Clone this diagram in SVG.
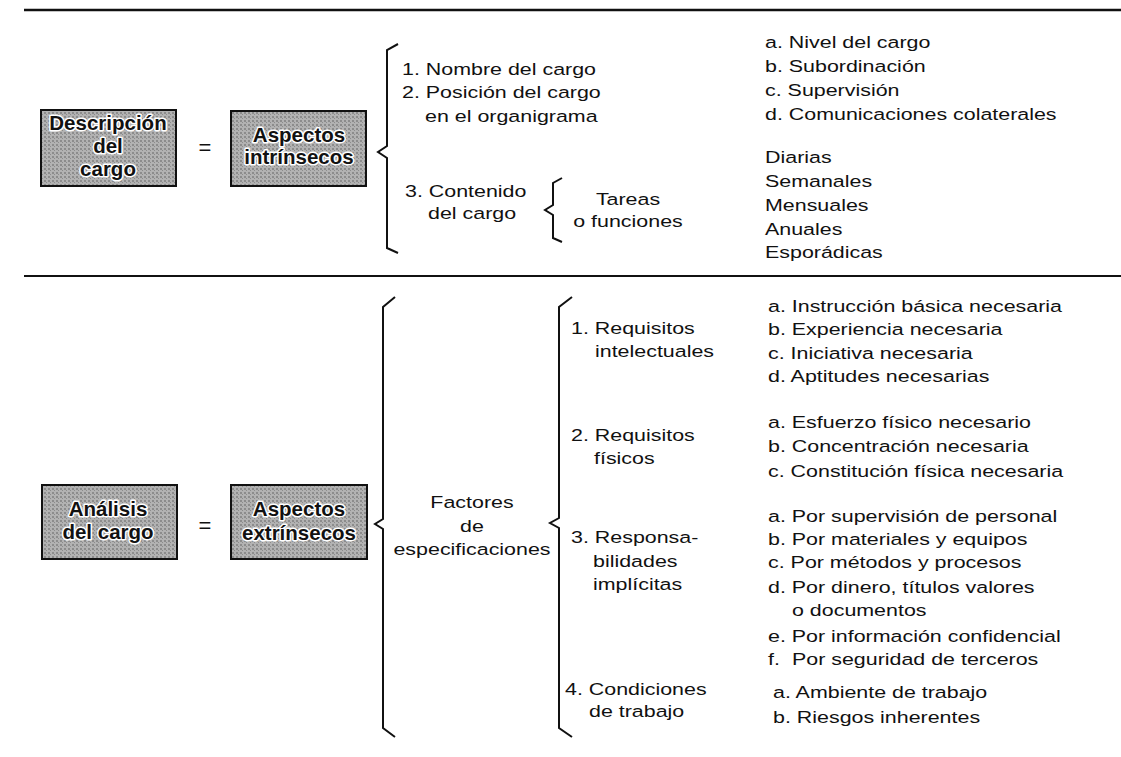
<svg xmlns="http://www.w3.org/2000/svg" width="1121" height="757" viewBox="0 0 1121 757">
<style>
  .t { font-family: "Liberation Sans", Arial, Helvetica, sans-serif; font-size: 17px; fill: #111; }
  .c { text-anchor: middle; }
  .b { font-family: "Liberation Sans", Arial, Helvetica, sans-serif; font-size: 20.5px; font-weight: bold; fill: #111; stroke: #fff; stroke-width: 3px; paint-order: stroke; stroke-linejoin: round; text-anchor: middle; }
  .box { fill: url(#halftone); stroke: #111; stroke-width: 2; }
  .eq { font-family: "Liberation Sans", Arial, sans-serif; font-size: 22px; fill: #111; text-anchor: middle; }
  .br { fill: none; stroke: #111; stroke-width: 2; stroke-linejoin: miter; }
  .rule { stroke: #111; }
</style>
<defs>
  <pattern id="halftone" width="4" height="4" patternUnits="userSpaceOnUse">
    <rect width="4" height="4" fill="#b2b2b2"/>
    <rect x="0" y="0" width="2" height="2" fill="#8c8c8c"/>
    <rect x="2" y="2" width="1" height="1" fill="#8c8c8c"/>
  </pattern>
</defs>
<rect width="1121" height="757" fill="#fff"/>
<line class="rule" x1="24" y1="10" x2="1121" y2="10" stroke-width="2.5"/>
<line class="rule" x1="24" y1="276" x2="1121" y2="276" stroke-width="2"/>

<g id="connectors">
  <path class="br" d="M398,44 L387,50 L387,146 L378,152 L387,158 L387,248 L398,253"/>
  <path class="br" d="M562,178 L553,183 L553,205 L545,210 L553,215 L553,238 L562,242"/>
  <path class="br" d="M395,297 L383,307 L383,519 L375,524 L383,529 L383,728 L395,737"/>
  <path class="br" d="M572,297 L559,307 L559,518 L550,523 L559,528 L559,728 L572,737"/>
</g>

<g id="descripcion">
  <rect class="box" x="41" y="110" width="135" height="76"/>
  <text class="b" x="108" y="130">Descripción</text>
  <text class="b" x="108" y="153">del</text>
  <text class="b" x="108" y="176">cargo</text>
</g>
<text id="eq1" class="eq" x="205" y="155">=</text>
<g id="intrinsecos">
  <rect class="box" x="231" y="111" width="135" height="75"/>
  <text class="b" x="299" y="142">Aspectos</text>
  <text class="b" x="299" y="164">intrínsecos</text>
</g>

<g id="top-items">
  <text class="t" transform="matrix(1.26 0 0 1 402 75)">1. Nombre del cargo</text>
  <text class="t" transform="matrix(1.26 0 0 1 402 98)">2. Posición del cargo</text>
  <text class="t" transform="matrix(1.26 0 0 1 425 122)">en el organigrama</text>
  <text class="t" transform="matrix(1.26 0 0 1 405 197)">3. Contenido</text>
  <text class="t" transform="matrix(1.26 0 0 1 428 219)">del cargo</text>
</g>
<g id="tareas">
  <text class="t c" transform="matrix(1.26 0 0 1 628 205)">Tareas</text>
  <text class="t c" transform="matrix(1.26 0 0 1 628 227)">o funciones</text>
</g>
<g id="top-right">
  <text class="t" transform="matrix(1.26 0 0 1 765 48)">a. Nivel del cargo</text>
  <text class="t" transform="matrix(1.26 0 0 1 765 72)">b. Subordinación</text>
  <text class="t" transform="matrix(1.26 0 0 1 765 96)">c. Supervisión</text>
  <text class="t" transform="matrix(1.26 0 0 1 765 120)">d. Comunicaciones colaterales</text>
  <text class="t" transform="matrix(1.26 0 0 1 765 163)">Diarias</text>
  <text class="t" transform="matrix(1.26 0 0 1 765 187)">Semanales</text>
  <text class="t" transform="matrix(1.26 0 0 1 765 211)">Mensuales</text>
  <text class="t" transform="matrix(1.26 0 0 1 765 235)">Anuales</text>
  <text class="t" transform="matrix(1.26 0 0 1 765 258)">Esporádicas</text>
</g>

<g id="analisis">
  <rect class="box" x="42" y="485" width="135" height="74"/>
  <text class="b" x="108" y="516">Análisis</text>
  <text class="b" x="108" y="539">del cargo</text>
</g>
<text id="eq2" class="eq" x="205" y="533">=</text>
<g id="extrinsecos">
  <rect class="box" x="231" y="485" width="136" height="74"/>
  <text class="b" x="299" y="516">Aspectos</text>
  <text class="b" x="299" y="540">extrínsecos</text>
</g>

<g id="factores">
  <text class="t c" transform="matrix(1.26 0 0 1 472 508)">Factores</text>
  <text class="t c" transform="matrix(1.26 0 0 1 472 532)">de</text>
  <text class="t c" transform="matrix(1.26 0 0 1 472 555)">especificaciones</text>
</g>

<g id="requisitos">
  <text class="t" transform="matrix(1.26 0 0 1 571 334)">1. Requisitos</text>
  <text class="t" transform="matrix(1.26 0 0 1 595 357)">intelectuales</text>
  <text class="t" transform="matrix(1.26 0 0 1 571 441)">2. Requisitos</text>
  <text class="t" transform="matrix(1.26 0 0 1 594 464)">físicos</text>
  <text class="t" transform="matrix(1.26 0 0 1 571 543)">3. Responsa-</text>
  <text class="t" transform="matrix(1.26 0 0 1 593 567)">bilidades</text>
  <text class="t" transform="matrix(1.26 0 0 1 593 590)">implícitas</text>
  <text class="t" transform="matrix(1.26 0 0 1 565 695)">4. Condiciones</text>
  <text class="t" transform="matrix(1.26 0 0 1 589 717)">de trabajo</text>
</g>

<g id="bottom-right">
  <text class="t" transform="matrix(1.26 0 0 1 768 312)">a. Instrucción básica necesaria</text>
  <text class="t" transform="matrix(1.26 0 0 1 768 335)">b. Experiencia necesaria</text>
  <text class="t" transform="matrix(1.26 0 0 1 768 359)">c. Iniciativa necesaria</text>
  <text class="t" transform="matrix(1.26 0 0 1 768 382)">d. Aptitudes necesarias</text>
  <text class="t" transform="matrix(1.26 0 0 1 768 428)">a. Esfuerzo físico necesario</text>
  <text class="t" transform="matrix(1.26 0 0 1 768 452)">b. Concentración necesaria</text>
  <text class="t" transform="matrix(1.26 0 0 1 768 477)">c. Constitución física necesaria</text>
  <text class="t" transform="matrix(1.26 0 0 1 768 522)">a. Por supervisión de personal</text>
  <text class="t" transform="matrix(1.26 0 0 1 768 545)">b. Por materiales y equipos</text>
  <text class="t" transform="matrix(1.26 0 0 1 768 568)">c. Por métodos y procesos</text>
  <text class="t" transform="matrix(1.26 0 0 1 768 593)">d. Por dinero, títulos valores</text>
  <text class="t" transform="matrix(1.26 0 0 1 792 616)">o documentos</text>
  <text class="t" transform="matrix(1.26 0 0 1 768 642)">e. Por información confidencial</text>
  <text class="t" transform="matrix(1.26 0 0 1 768 665)">f. <tspan x="19">Por seguridad de terceros</tspan></text>
  <text class="t" transform="matrix(1.26 0 0 1 773 698)">a. Ambiente de trabajo</text>
  <text class="t" transform="matrix(1.26 0 0 1 773 723)">b. Riesgos inherentes</text>
</g>
</svg>
